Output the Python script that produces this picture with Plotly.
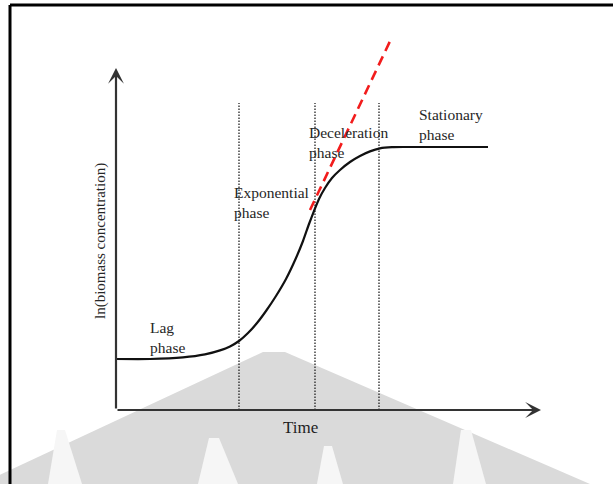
import plotly.graph_objects as go

# ---- data (time units, ln units) ----
curve_t = [0.0, 1.7, 3.35, 4.45, 5.2, 5.7, 6.15, 6.6, 7.05, 7.5, 8.0, 8.5, 9.0, 9.35, 9.65,
           9.9, 10.15, 10.45, 10.8, 11.2, 11.7, 12.2, 12.7, 13.2, 13.8, 14.45, 18.6]
curve_v = [2.55, 2.55, 2.63, 2.78, 2.98, 3.18, 3.45, 3.85, 4.35, 4.95, 5.7, 6.55, 7.6, 8.45, 9.3,
           9.95, 10.55, 11.1, 11.6, 12.0, 12.4, 12.7, 12.93, 13.08, 13.14, 13.15, 13.15]
tangent_t = [9.7, 13.8]
tangent_v = [10.0, 18.65]
phase_bounds = [6.15, 9.95, 13.15]
phase_top = 15.35
axis_x_end = 21.25
axis_y_end = 17.1
phase_names = ["Lag<br>phase", "Exponential<br>phase", "Deceleration<br>phase", "Stationary<br>phase"]
phase_label_t = [1.6, 5.8, 9.55, 15.05]
phase_label_v = [3.625, 10.375, 13.4, 14.26]
x_title = "Time"
y_title = "ln(biomass concentration)"

W, H = 613, 484
FONT = "Liberation Serif, Times New Roman, serif"
TXT = "#262626"

def px(x, y):
    return x / W, 1 - y / H

fig = go.Figure()

# phase boundary dotted lines
for b in phase_bounds:
    fig.add_trace(go.Scatter(x=[b, b], y=[0, phase_top], mode="lines",
                             line=dict(color="#222", width=1.3, dash="1.5px,1.5px"),
                             hoverinfo="skip", showlegend=False))

# growth curve
fig.add_trace(go.Scatter(x=curve_t, y=curve_v, mode="lines",
                         line=dict(color="#111", width=2.2, shape="spline", smoothing=0.6),
                         hoverinfo="skip", showlegend=False))

# tangent (exponential growth extrapolation)
fig.add_trace(go.Scatter(x=tangent_t, y=tangent_v, mode="lines",
                         line=dict(color="#f21c1c", width=2.6, dash="10px,6px"),
                         hoverinfo="skip", showlegend=False))

ann = []
# axes with arrows
ann.append(dict(x=axis_x_end, y=0, ax=0, ay=0, xref="x", yref="y", axref="x", ayref="y",
                showarrow=True, arrowhead=3, arrowsize=1.2, arrowwidth=2.2, arrowcolor="#333",
                standoff=0, text=""))
ann.append(dict(x=0, y=axis_y_end, ax=0, ay=0, xref="x", yref="y", axref="x", ayref="y",
                showarrow=True, arrowhead=3, arrowsize=1.2, arrowwidth=2.2, arrowcolor="#333",
                standoff=0, text=""))
for txt, tx, ty in zip(phase_names, phase_label_t, phase_label_v):
    ann.append(dict(x=tx, y=ty, xref="x", yref="y", text=txt, showarrow=False, align="left",
                    xanchor="left", yanchor="middle", font=dict(family=FONT, size=15.5, color=TXT)))
ann.append(dict(x=9.2, y=-0.875, xref="x", yref="y", text=x_title, showarrow=False,
                xanchor="center", yanchor="middle", font=dict(family=FONT, size=17, color="#1e1e1e")))
ann.append(dict(x=-0.8, y=8.45, xref="x", yref="y", text=y_title, showarrow=False, textangle=-90,
                xanchor="center", yanchor="middle", font=dict(family=FONT, size=15, color=TXT)))

# decorative watermark + frame (paper coordinates)
def poly(pts):
    s = ""
    for i, (x, y) in enumerate(pts):
        a, b = px(x, y)
        s += ("M" if i == 0 else "L") + f"{a:.4f},{b:.4f}"
    return s + "Z"

shapes = []
shapes.append(dict(type="path", xref="paper", yref="paper", layer="below",
                   path=poly([(263, 352), (285, 352), (590, 484), (-20, 484)]),
                   fillcolor="#dadada", line=dict(width=0)))
for g in [[(57, 430), (65, 430), (82, 484), (48, 484)],
          [(209, 438), (219, 438), (238, 484), (198, 484)],
          [(324, 446), (332, 446), (343, 484), (317, 484)],
          [(461, 430), (471, 430), (486, 484), (453, 484)]]:
    shapes.append(dict(type="path", xref="paper", yref="paper", layer="below",
                       path=poly(g), fillcolor="#f6f6f6", line=dict(width=0)))
x0, y0 = px(10, 5)
shapes.append(dict(type="line", xref="paper", yref="paper", x0=x0, y0=y0, x1=1.0, y1=y0,
                   line=dict(color="black", width=3)))
shapes.append(dict(type="line", xref="paper", yref="paper", x0=x0, y0=y0, x1=x0, y1=0,
                   line=dict(color="black", width=3)))

fig.update_layout(
    width=W, height=H, margin=dict(l=0, r=0, t=0, b=0),
    paper_bgcolor="white", plot_bgcolor="rgba(0,0,0,0)",
    xaxis=dict(range=[-5.8, 24.85], visible=False, fixedrange=True),
    yaxis=dict(range=[-3.7, 20.5], visible=False, fixedrange=True),
    annotations=ann, shapes=shapes, showlegend=False,
)
fig.write_html("out.html", config={"displayModeBar": False},
               post_script="document.body.style.margin='0';document.body.style.overflow='hidden';")
